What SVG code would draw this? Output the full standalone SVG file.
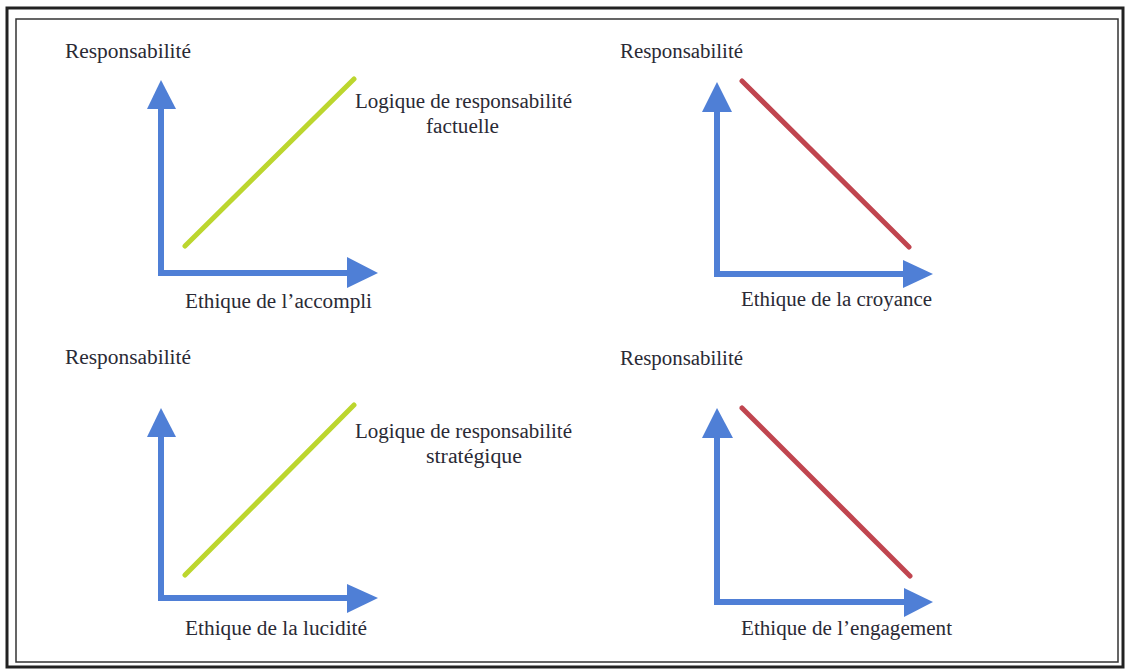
<svg xmlns="http://www.w3.org/2000/svg" width="1131" height="669" viewBox="0 0 1131 669">
<style>
text{font-family:"Liberation Serif","Times New Roman",serif;font-size:20px;fill:#2a2a35}
.ax{stroke:#4f7fd6;stroke-width:6;fill:none}
.hd{fill:#4f7fd6}
.g{stroke:#bcd62e;stroke-width:5;stroke-linecap:round}
.r{stroke:#c0454f;stroke-width:5;stroke-linecap:round}
</style>
<rect width="1131" height="669" fill="#fff"/>
<g id="frame">
<rect x="7" y="8" width="1116" height="659" fill="none" stroke="#222" stroke-width="3"/>
<rect x="16" y="19" width="1102" height="643" fill="none" stroke="#333" stroke-width="1.5"/>
</g>
<g id="connectors">
<path class="ax" d="M161,107 V273 H348"/>
<polygon class="hd" points="147,109 161,80 176,109"/>
<polygon class="hd" points="347,257 378,273 347,288"/>
<line class="g" x1="185" y1="246" x2="354" y2="79"/>
<path class="ax" d="M717,110 V274 H904"/>
<polygon class="hd" points="702,112 717,82 732,112"/>
<polygon class="hd" points="903,260 933,274 903,288"/>
<line class="r" x1="742" y1="81" x2="909" y2="247"/>
<path class="ax" d="M161,435 V598 H348"/>
<polygon class="hd" points="147,437 161,408 176,437"/>
<polygon class="hd" points="347,584 378,598 347,613"/>
<line class="g" x1="185" y1="575" x2="354" y2="405"/>
<path class="ax" d="M717,436 V602 H906"/>
<polygon class="hd" points="702,438 717,408 733,438"/>
<polygon class="hd" points="904,588 933,602 904,617"/>
<line class="r" x1="742" y1="408" x2="910" y2="576"/>
</g>
<g id="panel-accompli">
<text x="65" y="58" textLength="126" lengthAdjust="spacingAndGlyphs">Responsabilité</text>
<text x="185" y="308" textLength="187" lengthAdjust="spacingAndGlyphs">Ethique de l’accompli</text>
<text x="355" y="108" textLength="217" lengthAdjust="spacingAndGlyphs">Logique de responsabilité</text>
<text x="426" y="133" textLength="73" lengthAdjust="spacingAndGlyphs">factuelle</text>
</g>
<g id="panel-croyance">
<text x="620" y="58" textLength="123" lengthAdjust="spacingAndGlyphs">Responsabilité</text>
<text x="741" y="306" textLength="191" lengthAdjust="spacingAndGlyphs">Ethique de la croyance</text>
</g>
<g id="panel-lucidite">
<text x="65" y="364" textLength="126" lengthAdjust="spacingAndGlyphs">Responsabilité</text>
<text x="185" y="635" textLength="182" lengthAdjust="spacingAndGlyphs">Ethique de la lucidité</text>
<text x="355" y="438" textLength="217" lengthAdjust="spacingAndGlyphs">Logique de responsabilité</text>
<text x="426" y="463" textLength="96" lengthAdjust="spacingAndGlyphs">stratégique</text>
</g>
<g id="panel-engagement">
<text x="620" y="365" textLength="123" lengthAdjust="spacingAndGlyphs">Responsabilité</text>
<text x="741" y="635" textLength="211" lengthAdjust="spacingAndGlyphs">Ethique de l’engagement</text>
</g>
</svg>
